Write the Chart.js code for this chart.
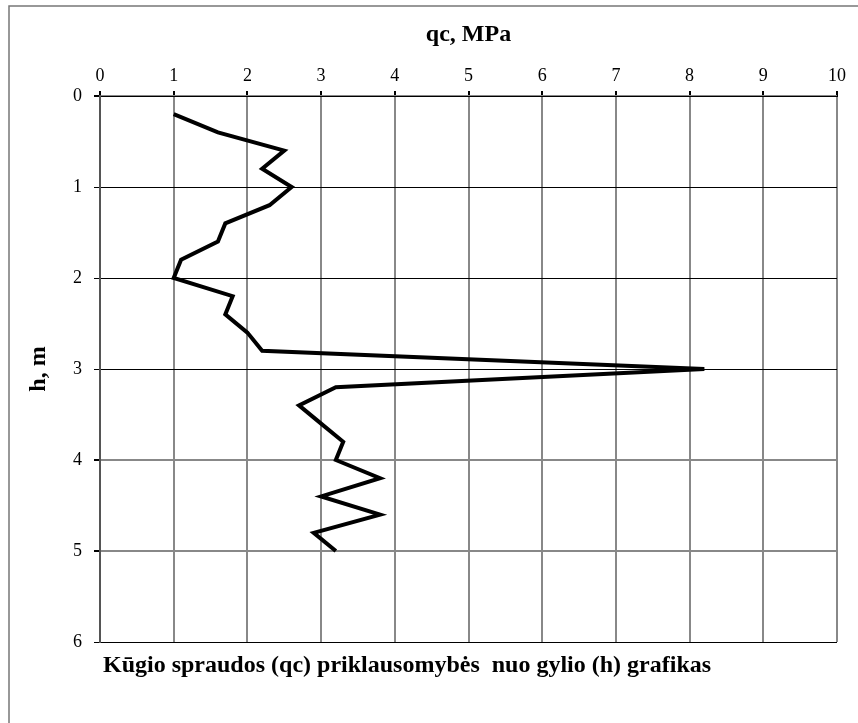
<!DOCTYPE html>
<html>
<head>
<meta charset="utf-8">
<script src="https://cdn.jsdelivr.net/npm/chart.js@4/dist/chart.umd.min.js"></script>
<style>
  html, body { margin: 0; padding: 0; background: #fff; }
  #wrap { width: 858px; height: 723px; }
</style>
</head>
<body>
<div id="wrap"><canvas id="cptChart" width="858" height="723"></canvas></div>
<script>
// depth h, m (y axis, reversed)
const depths = [0.2, 0.4, 0.6, 0.8, 1.0, 1.2, 1.4, 1.6, 1.8, 2.0, 2.2, 2.4, 2.6, 2.8, 3.0,
                3.2, 3.4, 3.6, 3.8, 4.0, 4.2, 4.4, 4.6, 4.8, 5.0];
// cone resistance qc, MPa (x axis)
const qcValues = [1.0, 1.6, 2.5, 2.2, 2.6, 2.3, 1.7, 1.6, 1.1, 1.0, 1.8, 1.7, 2.0, 2.2, 8.2,
                  3.2, 2.7, 3.0, 3.3, 3.2, 3.8, 3.0, 3.8, 2.9, 3.2];

const xTitle = "qc, MPa";
const yTitle = "h, m";
const caption = "Kūgio spraudos (qc) priklausomybės  nuo gylio (h) grafikas";

const serif = "'Liberation Serif', 'Times New Roman', serif";

// outer frame + caption under the plot
const framePlugin = {
    id: "frame",
    afterDraw(chart) {
        const ctx = chart.ctx;
        const area = chart.chartArea;
        ctx.save();
        ctx.strokeStyle = "#777";
        ctx.lineWidth = 1.5;
        ctx.beginPath();
        ctx.moveTo(9, 723);
        ctx.lineTo(9, 6);
        ctx.lineTo(858, 6);
        ctx.stroke();

        ctx.fillStyle = "#000";
        ctx.font = "bold 24px " + serif;
        ctx.textBaseline = "middle";
        ctx.textAlign = "left";
        ctx.fillText(caption, area.left + 3, area.bottom + 24);
        ctx.restore();
    }
};

const points = depths.map((h, i) => ({ x: qcValues[i], y: h }));

new Chart(document.getElementById("cptChart"), {
    type: "scatter",
    data: {
        datasets: [{
            data: points,
            showLine: true,
            borderColor: "#000",
            borderWidth: 4,
            pointRadius: 0,
            tension: 0
        }]
    },
    options: {
        responsive: false,
        animation: false,
        layout: { padding: { left: 10, top: 10, right: 21, bottom: 81 } },
        plugins: { legend: { display: false }, tooltip: { enabled: false } },
        scales: {
            x: {
                position: "top",
                min: 0, max: 10,
                afterFit(scale) { scale.height = 86; },
                ticks: { stepSize: 1, color: "#000", padding: 4, font: { family: serif, size: 18 } },
                grid: { color: "#888", lineWidth: 2, tickColor: "#000", tickLength: 5 },
                border: { color: "#000", width: 1 },
                title: {
                    display: true, text: xTitle, color: "#000",
                    padding: { top: 10, bottom: 0 },
                    font: { family: serif, size: 24, weight: "bold" }
                }
            },
            y: {
                reverse: true,
                min: 0, max: 6,
                afterFit(scale) { scale.width = 90; },
                ticks: { stepSize: 1, color: "#000", padding: 12, font: { family: serif, size: 18 } },
                grid: {
                    color: ctx => (ctx.index === 1 || ctx.index === 2 || ctx.index === 6) ? "#888" : "#000",
                    lineWidth: ctx => (ctx.index === 1 || ctx.index === 2 || ctx.index === 6) ? 2 : 1,
                    tickColor: "#000", tickLength: 6
                },
                border: { color: "#555", width: 2 },
                title: {
                    display: true, text: yTitle, color: "#000",
                    padding: { top: 14, bottom: 0 },
                    font: { family: serif, size: 24, weight: "bold" }
                }
            }
        }
    },
    plugins: [framePlugin]
});
</script>
</body>
</html>
